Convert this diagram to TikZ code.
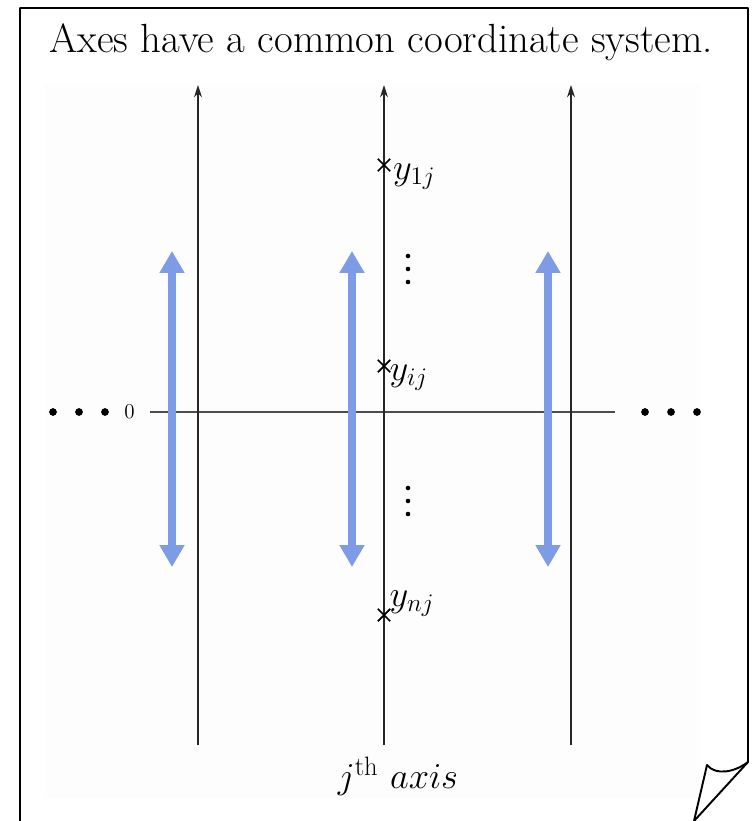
\documentclass[tikz,border=0pt]{standalone}
\usepackage{amsmath,amssymb}
\usepackage{xcolor}
\usetikzlibrary{arrows.meta,shapes.misc}

\definecolor{shiftblue}{RGB}{126,155,230}

\begin{document}
\begin{tikzpicture}[x=0.02cm, y=-0.02cm,
  every node/.style={font=\fontsize{20}{24}\selectfont},
  axisline/.style={draw=black!85, line width=0.8pt, -{Stealth[length=7pt,width=4.5pt]}},
  shiftarrow/.style={draw=shiftblue, line width=4.8pt, {Triangle[length=12.5pt,width=13.5pt]}-{Triangle[length=12.5pt,width=13.5pt]}},
  obs/.style={cross out, draw=black, line width=1pt, minimum size=6pt, inner sep=0pt},
  bigdot/.style={circle, fill=black, inner sep=0pt, minimum size=4.4pt},
  smalldot/.style={circle, fill=black, inner sep=0pt, minimum size=2.6pt}]
\useasboundingbox (0,0) rectangle (751,821);
% Page with folded corner
\fill[black!0.8] (45,85) rectangle (700,798);
\draw[line width=1.1pt, line join=round] (20,821) -- (20,8) -- (748,8) -- (748,762)
  .. controls (735,772) and (716,776) .. (707,765) -- (694,821);
\draw[line width=1.1pt] (748,762) -- (694,821);
\node[font=\fontsize{23.2}{27}\selectfont] (title) at (381,42) {Axes have a common coordinate system.};
% Common zero level
\coordinate (zl) at (150,412);
\coordinate (zr) at (615,412);
\draw[black!70, line width=0.8pt] (zl) -- (zr);
\node[font=\fontsize{12}{14}\selectfont, anchor=east] (zero) at (141,412) {0};
\foreach \x/\n in {53/l1,79/l2,105/l3,645/r1,671/r2,697/r3}
  \node[bigdot] (dot\n) at (\x,412) {};
% Axes
\foreach \x/\n in {198/a,384/b,571/c} {
  \coordinate (\n bot) at (\x,745);
  \coordinate (\n top) at (\x,85);
  \draw[axisline] (\n bot) -- (\n top);
}
% Shifts
\foreach \x/\n in {172/a,352/b,548/c} {
  \coordinate (\n low) at (\x,567);
  \coordinate (\n high) at (\x,251);
  \draw[shiftarrow] (\n low) -- (\n high);
}
% Observations on the j-th axis
\node[obs] (y1) at (384,165) {};
\node[obs] (yi) at (384,366) {};
\node[obs] (yn) at (384,615) {};
\node[anchor=north west, inner sep=1pt, xshift=4pt, yshift=2pt] (l1) at (y1.center) {$y_{1j}$};
\node[anchor=north west, inner sep=1pt, xshift=2pt, yshift=2pt] (li) at (yi.center) {$y_{ij}$};
\node[anchor=south west, inner sep=1pt, xshift=2pt, yshift=-2pt] (ln) at (yn.center) {$y_{nj}$};
\foreach \y/\n in {256/u1,269/u2,282/u3,488/d1,501/d2,514/d3}
  \node[smalldot] (v\n) at (408,\y) {};
\node[font=\fontsize{21.6}{26}\selectfont] (jaxis) at (398,776) {$j^{\text{th}}\ axis$};
\end{tikzpicture}
\end{document}
